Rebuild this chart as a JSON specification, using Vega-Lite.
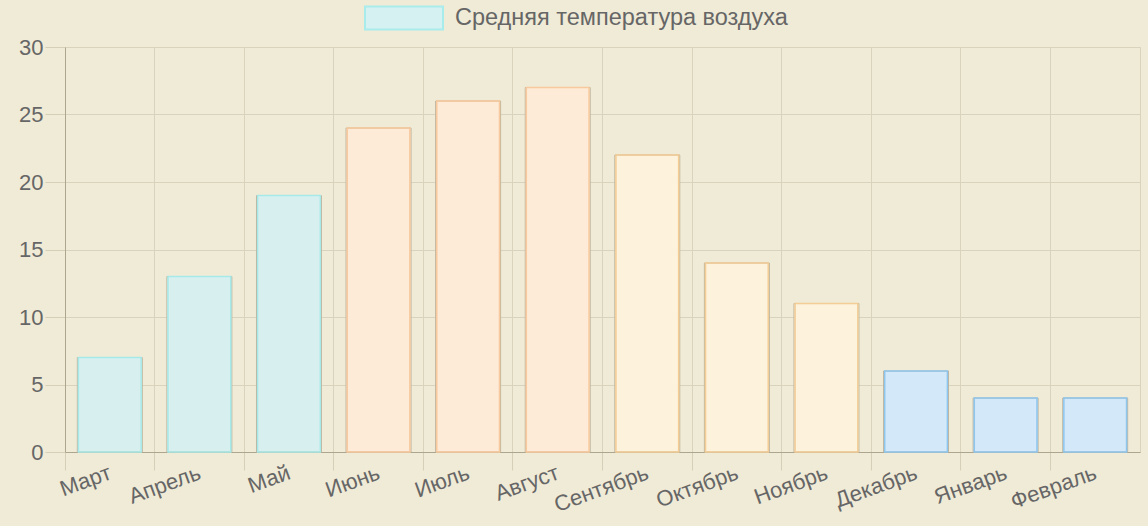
{
  "$schema": "https://vega.github.io/schema/vega-lite/v6.json",
  "width": 1075,
  "height": 405,
  "autosize": {"type": "none"},
  "padding": {"left": 65, "top": 47, "right": 8, "bottom": 74},
  "background": "#f0ebd7",
  "config": {
    "font": "Liberation Sans",
    "view": {"stroke": "#d9d2bc", "strokeWidth": 1}
  },
  "data": {
    "values": [
      {"month": "Март", "temp": 7, "season": "весна"},
      {"month": "Апрель", "temp": 13, "season": "весна"},
      {"month": "Май", "temp": 19, "season": "весна"},
      {"month": "Июнь", "temp": 24, "season": "лето"},
      {"month": "Июль", "temp": 26, "season": "лето"},
      {"month": "Август", "temp": 27, "season": "лето"},
      {"month": "Сентябрь", "temp": 22, "season": "осень"},
      {"month": "Октябрь", "temp": 14, "season": "осень"},
      {"month": "Ноябрь", "temp": 11, "season": "осень"},
      {"month": "Декабрь", "temp": 6, "season": "зима"},
      {"month": "Январь", "temp": 4, "season": "зима"},
      {"month": "Февраль", "temp": 4, "season": "зима"}
    ]
  },
  "encoding": {
    "x": {
      "field": "month",
      "type": "nominal",
      "sort": null,
      "scale": {"paddingInner": 0, "paddingOuter": 0},
      "axis": {
        "title": null,
        "bandPosition": 0,
        "labelOffset": -3,
        "labelAngle": -20,
        "labelAlign": "right",
        "labelBaseline": "top",
        "labelFontSize": 22,
        "labelColor": "#666666",
        "labelPadding": -8,
        "tickSize": 18,
        "tickColor": "#d6cfb8",
        "domainColor": "#aea58e",
        "gridColor": "#d9d2bc",
        "grid": true
      }
    },
    "y": {
      "field": "temp",
      "type": "quantitative",
      "scale": {"domain": [0, 30], "nice": false},
      "axis": {
        "title": null,
        "values": [0, 5, 10, 15, 20, 25, 30],
        "labelFontSize": 22,
        "labelColor": "#666666",
        "labelPadding": 2,
        "tickSize": 20,
        "tickColor": "#d6cfb8",
        "domainColor": "#aea58e",
        "gridColor": "#d9d2bc",
        "grid": true
      }
    }
  },
  "layer": [
    {
      "mark": {"type": "bar", "width": {"band": 0.725}, "stroke": "#bdb39c", "strokeWidth": 1},
      "encoding": {
        "fill": {
          "field": "season",
          "type": "nominal",
          "scale": {"domain": ["весна", "лето", "осень", "зима"], "range": ["#d7f0ef", "#fdebd7", "#fdf2db", "#d3e8f8"]},
          "legend": null
        }
      }
    },
    {
      "mark": {"type": "bar", "width": {"band": 0.7}, "fillOpacity": 0, "strokeWidth": 1.5},
      "encoding": {
        "stroke": {
          "field": "season",
          "type": "nominal",
          "scale": {"domain": ["весна", "лето", "осень", "зима"], "range": ["#a6e9e9", "#f7c99c", "#f3cd95", "#8ec6ee"]},
          "legend": null
        }
      }
    },
    {
      "mark": {"type": "bar", "strokeWidth": 0},
      "encoding": {
        "y": {"datum": 0, "type": "quantitative"},
        "y2": {"datum": 0},
        "color": {
          "datum": "Средняя температура воздуха",
          "type": "nominal",
          "scale": {"range": ["#d6f1f2"]},
          "legend": {
            "title": null,
            "orient": "none",
            "legendX": 299,
            "legendY": -69,
            "symbolType": "M-1,-0.295H1V0.295H-1Z",
            "symbolSize": 6084,
            "symbolStrokeColor": "#a9ecec",
            "symbolStrokeWidth": 2,
            "symbolOpacity": 1,
            "labelFontSize": 23.5,
            "labelColor": "#666666",
            "labelOffset": 11,
            "labelLimit": 600
          }
        }
      }
    }
  ]
}
